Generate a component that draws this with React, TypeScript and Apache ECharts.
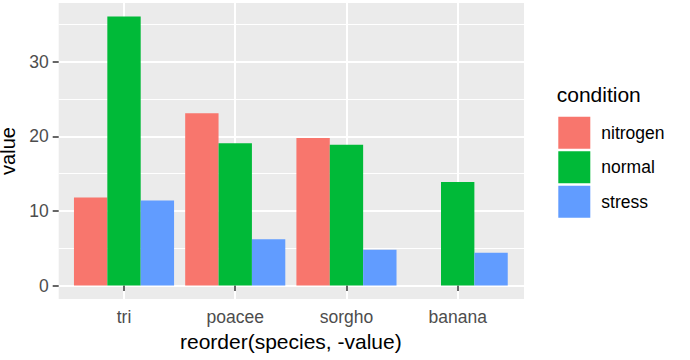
import React, { useEffect, useRef } from 'react';
import * as echarts from 'echarts';

const categories = ['tri', 'poacee', 'sorgho', 'banana'];
const nitrogen = [11.8, 23.1, 19.8, null];
const normal = [36.1, 19.1, 18.9, 13.9];
const stress = [11.4, 6.2, 4.8, 4.4];
const conditionNames = ['nitrogen', 'normal', 'stress'];
const conditionColors = ['#F8766D', '#00BA38', '#619CFF'];
const yMajorTicks = [0, 10, 20, 30];
const yMinorTicks = [5, 15, 25, 35];
const yMin = -1.805;
const yMax = 37.905;

export default function App() {
  const ref = useRef<HTMLDivElement>(null);
  useEffect(() => {
    const chart = echarts.init(ref.current!, null, { renderer: 'svg' });
    const font = "'Liberation Sans', Arial, sans-serif";
    const seriesData = [nitrogen, normal, stress];
    const option = {
      animation: false,
      backgroundColor: '#FFFFFF',
      textStyle: { fontFamily: font },
      title: {
        text: 'condition',
        left: 556.7,
        top: 84,
        padding: 0,
        textStyle: { fontFamily: font, fontSize: 21, fontWeight: 'normal', color: '#000000' },
      },
      legend: {
        orient: 'vertical',
        left: 558.3,
        top: 116.7,
        padding: 0,
        itemWidth: 32,
        itemHeight: 32,
        itemGap: 2.5,
        icon: 'rect',
        data: conditionNames,
        textStyle: { fontFamily: font, fontSize: 17.5, color: '#000000', padding: [0, 0, 0, 6] },
      },
      grid: [
        { left: 58.7, top: 3, width: 465.3, height: 296, show: true, backgroundColor: '#EBEBEB', borderWidth: 0, containLabel: false, outerBoundsMode: 'none' },
        { left: 68.4, top: 3, width: 444.9, height: 296, show: false, containLabel: false, outerBoundsMode: 'none' },
      ],
      xAxis: [
        { gridIndex: 0, type: 'value', min: 0, max: 1, show: false },
        {
          gridIndex: 1,
          type: 'category',
          data: categories,
          axisLine: { show: false },
          axisTick: { show: true, alignWithLabel: true, length: 5.5, lineStyle: { color: '#333333', width: 1.5 } },
          splitLine: { show: true, alignWithLabel: true, lineStyle: { color: '#FFFFFF', width: 2 } },
          axisLabel: { margin: 9, fontSize: 17.5, color: '#4D4D4D', fontFamily: font },
          name: 'reorder(species, -value)',
          nameLocation: 'middle',
          nameGap: 32,
          nameTextStyle: { fontSize: 21, color: '#000000', fontFamily: font },
        },
      ],
      yAxis: [
        {
          gridIndex: 0,
          type: 'value',
          position: 'left',
          min: yMin,
          max: yMax,
          axisLine: { show: false },
          axisTick: { show: false, customValues: yMinorTicks },
          axisLabel: { show: false, customValues: yMinorTicks },
          splitLine: { show: true, lineStyle: { color: '#FFFFFF', width: 1 } },
        },
        {
          gridIndex: 0,
          type: 'value',
          position: 'left',
          min: yMin,
          max: yMax,
          axisLine: { show: false },
          axisTick: { show: true, length: 6, customValues: yMajorTicks, lineStyle: { color: '#333333', width: 1.5 } },
          axisLabel: {
            margin: 10,
            fontSize: 17.5,
            color: '#4D4D4D',
            fontFamily: font,
            customValues: yMajorTicks,
          },
          splitLine: { show: true, lineStyle: { color: '#FFFFFF', width: 2 } },
          name: 'value',
          nameLocation: 'middle',
          nameGap: 33,
          nameRotate: 90,
          nameTextStyle: { fontSize: 20, lineHeight: 16, color: '#000000', fontFamily: font },
        },
        { gridIndex: 1, type: 'value', min: yMin, max: yMax, show: false },
      ],
      series: conditionNames.map((name, i) => ({
        name,
        type: 'bar',
        xAxisIndex: 1,
        yAxisIndex: 2,
        barGap: '0%',
        barCategoryGap: '10%',
        itemStyle: { color: conditionColors[i] },
        data: seriesData[i],
      })),
    };
    chart.setOption(option as any);
    return () => chart.dispose();
  }, []);
  return <div ref={ref} style={{ position: 'absolute', left: 0, top: 0, width: 690, height: 360 }} />;
}
